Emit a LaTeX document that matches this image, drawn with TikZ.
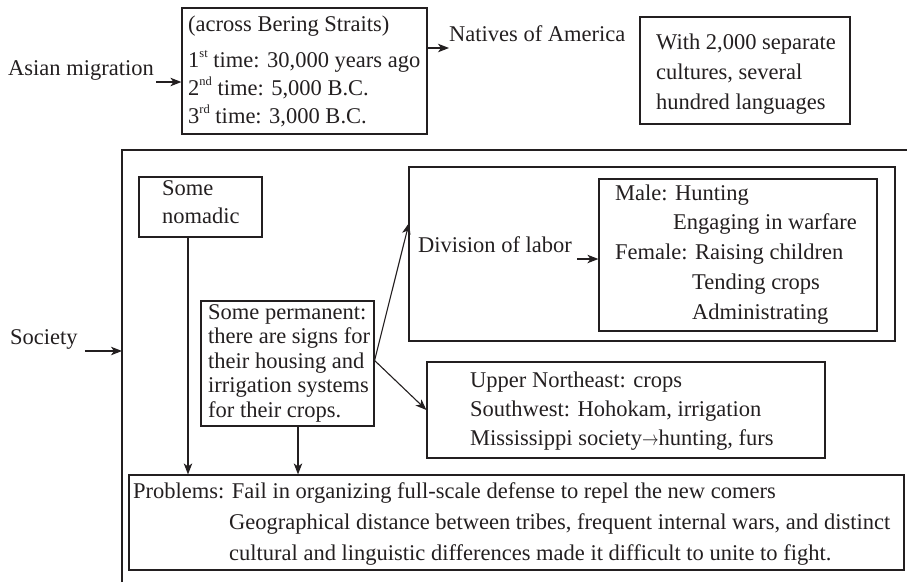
\documentclass[tikz,border=0pt]{standalone}
\usepackage{fontspec}
\setmainfont{Liberation Serif}
\usetikzlibrary{arrows.meta,calc}
\definecolor{ink}{HTML}{231F20}
\newcommand{\supx}[1]{\raisebox{0.42em}{\fontsize{12.5}{12.5}\selectfont #1}}
\newcommand{\inlinearrow}{\scalebox{0.8}[1]{$\rightarrow$}}
\tikzset{
  txt/.style={inner sep=0pt, anchor=base west, text=ink, font=\fontsize{22.5}{27}\selectfont},
  box/.style={draw=ink, line width=1.2pt, inner sep=0pt},
  conn/.style={draw=ink, line width=1.1pt, -{Stealth[length=11pt,width=8.5pt,inset=3pt]}},
}
\begin{document}
\begin{tikzpicture}[x=1pt,y=-1pt]
\useasboundingbox (0,0) rectangle (907,582);

% ---- top part ----
\node[box, minimum width=245pt, minimum height=126pt] (b1) at (304.5,71) {};
\node[txt] (b1l1) at (188,31) {(across Bering Straits)};
\node[txt] (b1l2) at (188,67) {1\supx{st} time: 30,000 years ago};
\node[txt] (b1l3) at (188,95) {2\supx{nd} time: 5,000 B.C.};
\node[txt] (b1l4) at (188,123) {3\supx{rd} time: 3,000 B.C.};

\node[txt] (asian) at (8,75) {Asian migration};
\draw[conn] ([xshift=2pt,yshift=-7pt]asian.base east) -- ([yshift=-7pt]asian.base east -| b1.west);

\node[txt] (natives) at (449,41) {Natives of America};
\draw[conn] ([yshift=-7pt]natives.base west -| b1.east) -- ([yshift=-7pt]natives.base west);

\node[box, minimum width=210pt, minimum height=107pt] (b2) at (745,70.5) {};
\node[txt] (b2l1) at (656,49) {With 2,000 separate};
\node[txt] (b2l2) at (656,79) {cultures, several};
\node[txt] (b2l3) at (656,109) {hundred languages};

% ---- society frame ----
\coordinate (fbot) at (122,582);
\coordinate (fcorner) at (122,150);
\coordinate (fright) at (907,150);
\draw[draw=ink, line width=1.2pt] (fbot) -- (fcorner) -- (fright);

\node[txt] (soc) at (10,344) {Society};
\draw[conn] ([xshift=7pt,yshift=-7pt]soc.base east) -- ([yshift=-7pt]soc.base east -| fcorner);

% nomadic
\node[box, minimum width=123pt, minimum height=60pt] (nom) at (200.5,207) {};
\node[txt] (noml1) at (162,195) {Some};
\node[txt] (noml2) at (162,223) {nomadic};

% permanent
\node[box, minimum width=173pt, minimum height=125pt] (perm) at (287.5,363.5) {};
\node[txt] (perml1) at (208,319) {Some permanent:};
\node[txt] (perml2) at (208,343.5) {there are signs for};
\node[txt] (perml3) at (208,368) {their housing and};
\node[txt] (perml4) at (208,392.5) {irrigation systems};
\node[txt] (perml5) at (208,417) {for their crops.};

% division of labor
\node[box, minimum width=486pt, minimum height=174pt] (div) at (652,254) {};
\node[txt] (divl) at (418,252) {Division of labor};
\node[box, minimum width=278pt, minimum height=152pt] (inner) at (738,255) {};
\node[txt] (in1) at (615,200) {Male: Hunting};
\node[txt] (in2) at (673,229.5) {Engaging in warfare};
\node[txt] (in3) at (615,259) {Female: Raising children};
\node[txt] (in4) at (692,289) {Tending crops};
\node[txt] (in5) at (692,319) {Administrating};
\draw[conn] ([xshift=5pt,yshift=-7pt]divl.base east) -- ([yshift=-7pt]divl.base east -| inner.west);

% upper northeast
\node[box, minimum width=398pt, minimum height=96pt] (une) at (626,410) {};
\node[txt] (une1) at (470,387) {Upper Northeast: crops};
\node[txt] (une2) at (470,416) {Southwest: Hohokam, irrigation};
\node[txt] (une3) at (470,445) {Mississippi society\inlinearrow hunting, furs};

% problems
\node[box, minimum width=775pt, minimum height=95pt] (prob) at (516.5,522.5) {};
\node[txt] (pr1) at (133,498) {Problems: Fail in organizing full-scale defense to repel the new comers};
\node[txt] (pr2) at (229,529) {Geographical distance between tribes, frequent internal wars, and distinct};
\node[txt] (pr3) at (229,560) {cultural and linguistic differences made it difficult to unite to fight.};

% connectors
\coordinate (xnom) at (188,0);
\coordinate (xperm) at (298,0);
\coordinate (divin) at (409,223);
\draw[conn] (nom.south -| xnom) -- (prob.north -| xnom);
\draw[conn] (perm.south -| xperm) -- (prob.north -| xperm);
\draw[conn] ([yshift=3pt]perm.east) -- (divin);
\draw[conn] ([yshift=3pt]perm.east) -- (une.west);
\end{tikzpicture}
\end{document}
